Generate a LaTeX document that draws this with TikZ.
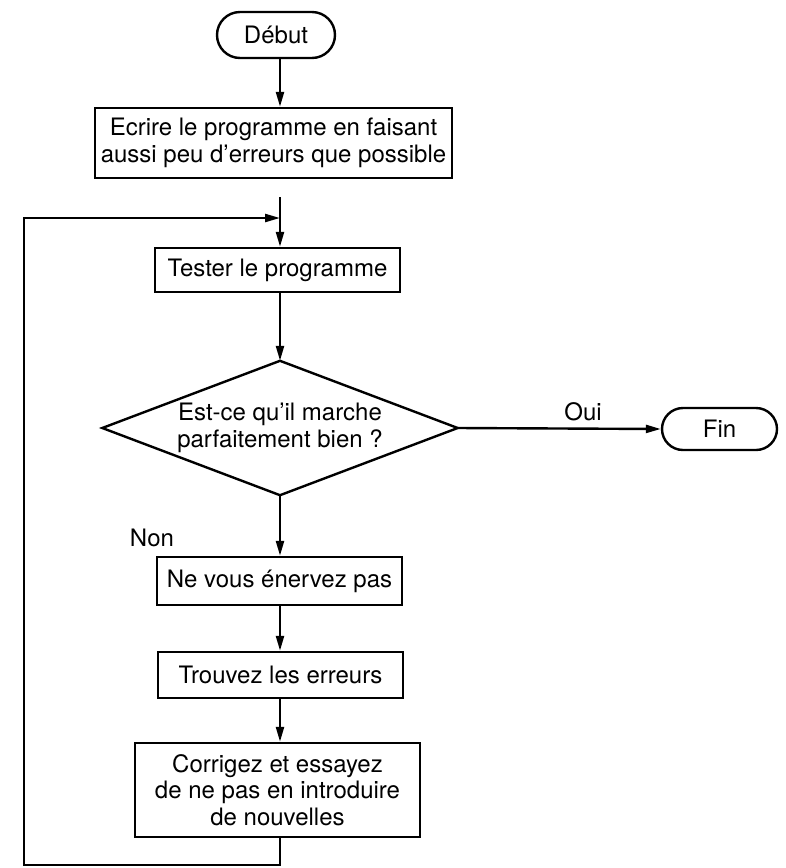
\documentclass[tikz,border=0pt]{standalone}
\usepackage{fontspec}
\setmainfont{TeX Gyre Heros}
\usetikzlibrary{shapes.misc,arrows.meta}
\begin{document}
\begin{tikzpicture}[x=1pt,y=-1pt,
  every node/.style={font=\fontsize{24}{26.5}\selectfont, inner sep=0pt},
  flow/.style={line width=2.4pt, line join=miter},
  arr/.style={flow, -{Triangle[length=15pt,width=8pt]}},
  proc/.style={draw, line width=2.4pt, rectangle, align=center},
  term/.style={draw, line width=2.4pt, rounded rectangle, align=center},
  dec/.style={rectangle, align=center},
  lbl/.style={}]
\useasboundingbox (0,0) rectangle (786,868);
\coordinate (axis) at (280,0);
\node[term, minimum width=118pt, minimum height=46pt] (debut) at (276,35) {Début};
\node[proc, minimum width=357pt, minimum height=70pt] (box1) at (273.5,143)
  {Ecrire le programme en faisant\\aussi peu d’erreurs que possible};
\node[proc, minimum width=245pt, minimum height=44pt] (tester) at (277.5,270) {Tester le programme};
\node[dec, minimum width=355pt, minimum height=134pt] (dia) at (280,428)
  {Est-ce qu’il marche\\parfaitement bien ?};
\draw[flow] (dia.north) -- (dia.east) -- (dia.south) -- (dia.west) -- cycle;
\node[term, minimum width=115pt, minimum height=42pt] (fin) at (719.5,429) {Fin};
\node[proc, minimum width=245pt, minimum height=48pt] (nevous) at (279.5,581) {Ne vous énervez pas};
\node[proc, minimum width=245pt, minimum height=46pt] (trouvez) at (280.5,675) {Trouvez les erreurs};
\node[proc, minimum width=285pt, minimum height=94pt] (corr) at (277.5,790)
  {Corrigez et essayez\\de ne pas en introduire\\de nouvelles};
\node[lbl] (oui) at (583,412) {Oui};
\node[lbl] (non) at (152,538) {Non};
\coordinate (start) at (280,197);
\coordinate (join) at (280,218);
\coordinate (tl) at (24,218);
\coordinate (bl) at (24,865);
\coordinate (br) at (280,865);
\draw[arr] (debut.south -| axis) -- (box1.north -| axis);
\draw[arr] (start) -- (tester.north -| axis);
\draw[arr] (tester.south -| axis) -- (dia.north);
\draw[arr] (dia.east) -- (fin.west);
\draw[arr] (dia.south) -- (nevous.north -| axis);
\draw[arr] (nevous.south -| axis) -- (trouvez.north -| axis);
\draw[arr] (trouvez.south -| axis) -- (corr.north -| axis);
\draw[arr] (corr.south -| axis) -- (br) -- (bl) -- (tl) -- (join);
\end{tikzpicture}
\end{document}
